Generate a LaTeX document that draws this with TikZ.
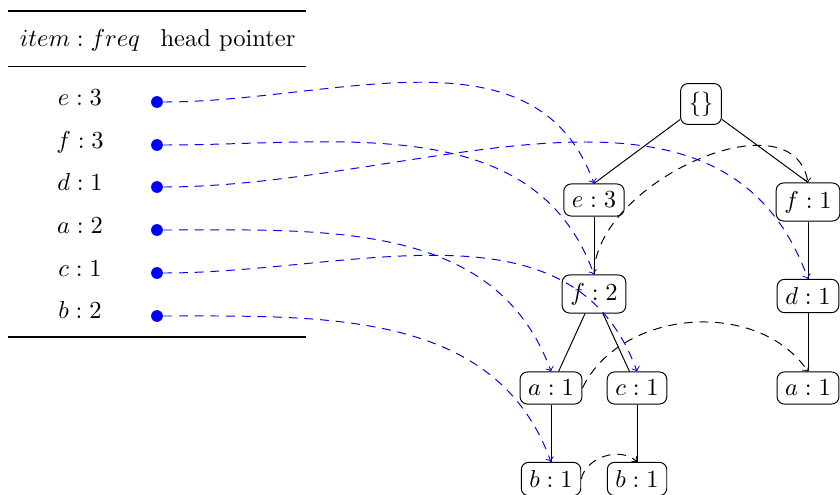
\documentclass[tikz,border=0pt]{standalone}
\begin{document}
\begin{tikzpicture}[x=0.4082pt,y=0.4082pt,
  fpnode/.style={draw,rounded corners=3pt,inner sep=0.333em},
  hpdot/.style={circle,fill=blue,inner sep=0pt,minimum size=4.8pt},
  lbl/.style={anchor=base,inner sep=0pt},
  ptr/.style={->,blue,dash pattern=on 3.6pt off 2.8pt},
  lnk/.style={->,dash pattern=on 3.6pt off 2.8pt}]
\useasboundingbox (0,0) rectangle (840,-494);
% table rules
\draw[line width=0.8pt] (8,-10.7) -- (306,-10.7);
\draw[line width=0.5pt] (8,-66.7) -- (306,-66.7);
\draw[line width=0.8pt] (8,-336.7) -- (306,-336.7);
% header
\node[lbl] (hitem) at (80,-46.7) {$item:freq$};
\node[lbl] (hhead) at (228,-46.7) {head pointer};
% rows
\node[lbl] (le) at (80,-105.5) {$e:3$};
\node[lbl] (lf) at (80,-148.5) {$f:3$};
\node[lbl] (ld) at (80,-190.5) {$d:1$};
\node[lbl] (la) at (80,-233.5) {$a:2$};
\node[lbl] (lc) at (80,-276) {$c:1$};
\node[lbl] (lb) at (80,-318.5) {$b:2$};
\node[hpdot] (pe) at (157,-102) {};
\node[hpdot] (pf) at (157,-145) {};
\node[hpdot] (pd) at (157,-187) {};
\node[hpdot] (pa) at (157,-230) {};
\node[hpdot] (pc) at (157,-273) {};
\node[hpdot] (pb) at (157,-316) {};
% tree nodes
\node[fpnode] (root) at (701,-104) {$\{\}$};
\node[fpnode] (e3) at (594,-200) {$e:3$};
\node[fpnode] (f1) at (808,-202) {$f:1$};
\node[fpnode] (f2) at (594,-294) {$f:2$};
\node[fpnode] (d1) at (808,-296) {$d:1$};
\node[fpnode] (a1) at (551,-388) {$a:1$};
\node[fpnode] (c1) at (637,-388) {$c:1$};
\node[fpnode] (a1r) at (808,-388) {$a:1$};
\node[fpnode] (b1) at (551,-479) {$b:1$};
\node[fpnode] (b1r) at (637,-479) {$b:1$};
% tree edges
\draw (root) -- (e3.north);
\draw (root) -- (f1.north);
\draw (e3) -- (f2);
\draw (f2) -- (a1);
\draw (f2) -- (c1);
\draw (a1) -- (b1);
\draw (c1) -- (b1r);
\draw (f1) -- (d1);
\draw (d1) -- (a1r);
% head pointers
\draw[ptr] (pe) to[out=0,in=110] (e3.north);
\draw[ptr] (pf) to[out=0,in=110] (f2.north);
\draw[ptr] (pd) to[out=0,in=110] (d1.north);
\draw[ptr] (pa) to[out=0,in=110] (a1.north);
\draw[ptr] (pc) to[out=0,in=110] (c1.north);
\draw[ptr] (pb) to[out=0,in=110] (b1.north);
% node links
\draw[lnk] (f2.north) to[out=90,in=100] (f1.north);
\draw[lnk] (a1.east) to[bend left=60] (a1r.north);
\draw[lnk] (b1.east) to[bend left=60] (b1r.north);
\end{tikzpicture}
\end{document}
